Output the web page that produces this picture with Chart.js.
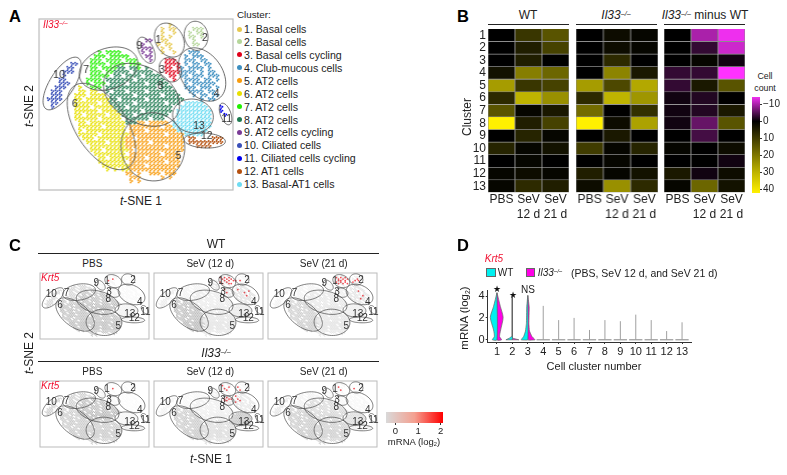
<!DOCTYPE html>
<html>
<head>
<meta charset="utf-8">
<script src="https://cdn.jsdelivr.net/npm/chart.js@4/dist/chart.umd.js"></script>
<style>
  html, body { margin: 0; padding: 0; background: #fff; }
  #page { position: relative; width: 787px; height: 475px; overflow: hidden; font-family: "Liberation Sans", Arial, sans-serif; color: #222; }
  canvas { position: absolute; }
  .txt { position: absolute; white-space: nowrap; line-height: 1; }
  .txt sup { font-size: 0.6em; vertical-align: baseline; position: relative; top: -0.45em; }
  .txt sub { font-size: 0.6em; vertical-align: baseline; position: relative; top: 0.25em; }
  .rule { position: absolute; background: #222; height: 1px; }
</style>
</head>
<body>
<div id="page"></div>
<script>
// Cluster names and colours for the t-SNE legend
const clusterNames = ['1. Basal cells', '2. Basal cells', '3. Basal cells cycling', '4. Club-mucous cells', '5. AT2 cells', '6. AT2 cells', '7. AT2 cells', '8. AT2 cells', '9. AT2 cells cycling', '10. Ciliated cells', '11. Ciliated cells cycling', '12. AT1 cells', '13. Basal-AT1 cells'];
const clusterColors = ['#e6c84e', '#b5d69a', '#e0001a', '#3c8ec0', '#f89c0e', '#e8e000', '#22f000', '#1d7a50', '#7a3a96', '#3a50b8', '#0000f0', '#b5500e', '#6fdcf2'];
const clusterCodes = '123456789abcd';

// Where the cells sit on a coarse grid (one char = one cell of the t-SNE map)
const tsneMask = [
  '.......... .......... .......... .......... .........',
  '.......... .......... .......... ...1...... .........',
  '.......... .......... .......... .1.11....2 22.......',
  '.......... .......... .......... .1..1...2. 22.......',
  '.......... .......... .......... .1.1....22 .2.......',
  '.......... .......... .......99. .11......2 .........',
  '.......... .......... ......9... 1.11.....2 2........',
  '.......... .......... ......999. .1.1...... .........',
  '.......... .....7.777 7.....9.9. .1..1...44 4........',
  '.......... ....777.77 777....99. .......4.4 44.......',
  '.......... ...777.777 7.777...9. ..333..444 .44......',
  '........aa ...7777.77 77.777.... ..3333.4.4 4.44.....',
  '.......aa. ...77.7777 88.887.8.. ..33.34.44 44.4.....',
  '......aaa. ...777.778 888.88888. ..33334444 .4.44....',
  '......a... ...77777.8 8.8888.888 8..33.44.4 44.444...',
  '.....aa... ..7777.888 8888.88888 88..3..444 4.44.4...',
  '.....aaa.. ..7.777.88 88.8888.88 888....4.4 44444....',
  '....aaa... 6..777.888 8888888888 .888...444 .444.4...',
  '...aaa.... 66.66..8.8 88.8888.88 88888...44 44.44....',
  '...aaa...6 66.6666.88 8888.88888 8.8888...4 .44.44...',
  '..aaaa...6 6.66666688 .888888.88 8888888... .4.44....',
  '...aa....6 66666.6688 8888.88888 88.888.ddd dd.......',
  '...a.....6 666.666668 88.8888888 8888..dddd ddd...b..',
  '.........6 66666.6666 888888.888 8888.ddddd dddd..b..',
  '.........6 6.66666.66 6888.88888 888..ddddd dddd...b.',
  '.........6 66666.6666 6.888888.8 88...ddddd dddd.....',
  '.......... 66.6666666 6688855.55 555.dddddd dddd.....',
  '.......... 666666.666 66.5555555 5.55dddddd dddd.....',
  '.......... 6.66666666 66.5555.55 55555ddddd ddd......',
  '.......... 66666.6666 6665555555 55.5555ddd dd.......',
  '.......... .666.66666 6655.55555 5555555.cc ....ccc..',
  '.......... ..66666.66 66555555.5 5555555.cc ccccccc..',
  '.......... ...6666666 6655555555 55.5555... cccc.....',
  '.......... ...666.666 6665.55555 5555555... .........',
  '.......... ....666666 66.5555555 5.5555.... .........',
  '.......... .....66.66 6665555.55 555555.... .........',
  '.......... .....66666 66.5555555 55.555.... .........',
  '.......... ......6666 6665555.55 555555.... .........',
  '.......... .......6.6 .665555555 55555..... .........',
  '.......... .......... ..55.5..55 5.555..... .........',
  '.......... .......... ...555.... .5.5...... .........',
  '.......... .......... ...5.5.... .......... .........'
];

// Map extent in grid units
const mapWidth = 49.4;
const mapHeight = 43.75;

// Cluster rings in map units: centre, semi axes, tilt in degrees
const ringX = [33.2, 40.0, 33.4, 41.5, 29.0, 15.9, 17.7, 26.1, 27.3, 5.9, 47.5, 42.2, 39.2];
const ringY = [5.4, 4.3, 13.0, 14.2, 32.7, 27.5, 12.7, 19.4, 8.0, 16.5, 24.3, 31.1, 24.8];
const ringA = [4.6, 3.75, 3.25, 7.5, 8.75, 12.5, 7.7, 10.4, 3.6, 7.7, 2.9, 5.25, 5.2];
const ringB = [3.5, 3.0, 2.65, 5.2, 8.1, 6.5, 5.2, 7.1, 1.85, 3.15, 1.35, 1.9, 4.3];
const ringTilt = [60, 80, 60, 55, 80, 57, -20, 30, 65, -58, 70, 3, 10];

// Cluster number labels in map units
const numberX = [30.4, 42.2, 31.3, 45.2, 35.5, 9.1, 12.0, 30.9, 25.5, 5.1, 47.8, 42.7, 40.7];
const numberY = [5.5, 4.8, 13.0, 19.2, 35.0, 21.7, 13.2, 17.2, 7.0, 14.4, 25.7, 30.0, 27.3];

// Panel B, cell counts per cluster (rows) and condition (columns)
const heatColumns = ['PBS', ['SeV', '12 d'], ['SeV', '21 d']];
const heatRows = ['1', '2', '3', '4', '5', '6', '7', '8', '9', '10', '11', '12', '13'];
const wtCounts = [[0, 9, 14], [0, 5, 11], [0, 5, 0], [3, 21, 17], [26, 9, 11], [7, 30, 24], [14, 1, 4], [40, 5, 11], [0, 6, 1], [6, 1, 3], [0, 1, 0], [1, 2, 1], [1, 7, 5]];
const koCounts = [[0, 2, 1], [0, 2, 1], [0, 7, 0], [0, 22, 4], [26, 12, 28], [7, 30, 25], [18, 0, 8], [40, 2, 27], [0, 4, 0], [10, 1, 6], [0, 1, 0], [5, 1, 3], [2, 24, 7]];
const diffCounts = [[0, -10, -14], [0, -3, -12], [0, 1, -1], [-3, -3, -15], [-3, 4, 14], [-1, -2, 0], [-1, -2, 4], [-1, -6, 14], [0, -4, 0], [1, 0, 2], [0, 0, -1], [4, -1, 2], [1, 17, 3]];
const countTicks = [-10, 0, 10, 20, 30, 40];

// Panel C, how dense the grey cells look per cluster in each small map
const greyLevels = [
  [0.1, 0.05, 0.1, 0.08, 0.7, 0.7, 0.5, 0.8, 0.1, 0.5, 0.05, 0.1, 0.15],
  [0.3, 0.1, 0.3, 0.4, 0.3, 0.75, 0.15, 0.25, 0.3, 0.25, 0.05, 0.1, 0.25],
  [0.3, 0.2, 0.2, 0.35, 0.3, 0.55, 0.15, 0.3, 0.1, 0.15, 0.05, 0.1, 0.2],
  [0.05, 0.05, 0.1, 0.05, 0.6, 0.6, 0.6, 0.85, 0.1, 0.6, 0.05, 0.2, 0.1],
  [0.2, 0.1, 0.3, 0.3, 0.4, 0.6, 0.1, 0.2, 0.15, 0.15, 0.05, 0.1, 0.7],
  [0.1, 0.05, 0.1, 0.1, 0.55, 0.6, 0.15, 0.5, 0.1, 0.3, 0.05, 0.15, 0.4]
];
// Krt5 positive cells in each small map
const redCells = [
  [[31, 5], [33, 4]],
  [[30, 3], [31, 4], [32, 3], [33, 4], [34, 3], [35, 4], [36, 5], [30, 6], [31, 7], [33, 6], [34, 7], [35, 7], [32, 5], [34, 5], [32, 11], [33, 13], [38, 11], [41, 13], [43, 12], [42, 15], [37, 5], [39, 5]],
  [[31, 3], [32, 4], [33, 3], [34, 4], [35, 3], [36, 4], [31, 6], [32, 7], [33, 6], [34, 7], [35, 6], [36, 7], [33, 5], [35, 5], [32, 5], [38.5, 6], [39.5, 5], [40.5, 4], [41, 5], [41, 12], [43, 15], [42, 17]],
  [[33, 5]],
  [[31, 3], [32, 5], [33, 6], [34, 4], [32, 12], [33, 11], [33, 13], [34, 12], [35, 12], [32, 13], [37, 10], [38, 12], [37, 14], [39, 13], [38, 4], [39, 6]],
  [[32, 4], [33, 6], [39, 5]]
];
const mapTitles = ['PBS', 'SeV (12 d)', 'SeV (21 d)'];
const mrnaTicks = [0, 1, 2];

// Panel D, violin half widths (x units) at the listed mRNA levels
const violin1Levels = [4.3, 3.05, 2.05, 0.9, 0.3, 0];
const violin1Wt = [0, 0.22, 0.43, 0.22, 0.17, 0.3];
const violin1Ko = [0, 0.22, 0.4, 0.24, 0.17, 0.3];
const violin2Levels = [3.9, 0.35, 0.15, 0];
const violin2Wt = [0, 0.01, 0.2, 0.42];
const violin2Ko = [0, 0, 0.02, 0.42];
const violin3Levels = [4.05, 3, 1.5, 0.8, 0.3, 0];
const violin3Wt = [0, 0.07, 0.09, 0.15, 0.27, 0.43];
const violin3Ko = [0, 0.09, 0.07, 0.11, 0.27, 0.47];
const stemClusters = [4, 5, 6, 7, 8, 9, 10, 11, 12, 13];
const stemHeights = [3.1, 1.8, 2.0, 0.9, 1.8, 1.7, 2.3, 1.8, 0.8, 1.6];
const violinTicksX = [1, 2, 3, 4, 5, 6, 7, 8, 9, 10, 11, 12, 13];
const violinTicksY = [0, 2, 4];

const fontName = '"Liberation Sans", Arial, sans-serif';
const page = document.getElementById('page');
const IL33 = '<i>Il33</i><sup><i>–/–</i></sup>';

function addText(html, x, y, size, extra) {
  const el = document.createElement('div');
  el.className = 'txt';
  el.innerHTML = html;
  el.style.left = x + 'px';
  el.style.top = y + 'px';
  el.style.fontSize = size + 'px';
  const rotate = extra && extra.rotate ? ' rotate(-90deg)' : '';
  const shift = extra && extra.left ? 'translate(0,-50%)' : 'translate(-50%,-50%)';
  el.style.transform = shift + rotate;
  if (extra && extra.color) el.style.color = extra.color;
  if (extra && extra.bold) el.style.fontWeight = 'bold';
  page.appendChild(el);
  return el;
}

function addRule(x1, x2, y) {
  const el = document.createElement('div');
  el.className = 'rule';
  el.style.left = x1 + 'px';
  el.style.width = (x2 - x1) + 'px';
  el.style.top = y + 'px';
  page.appendChild(el);
}

function addCanvas(x, y, w, h) {
  const c = document.createElement('canvas');
  c.width = w;
  c.height = h;
  c.style.left = x + 'px';
  c.style.top = y + 'px';
  c.style.width = w + 'px';
  c.style.height = h + 'px';
  page.appendChild(c);
  return c;
}

// scales reserve room for half a tick label at their ends, which shrinks the plot
function fixScale(s, size) {
  if (s.isHorizontal()) s.height = size; else s.width = size;
  s.paddingTop = 0;
  s.paddingBottom = 0;
  s.paddingLeft = 0;
  s.paddingRight = 0;
}

// black at 0, yellow for positive counts, magenta for negative ones
function heatColor(v) {
  if (v >= 0) {
    const t = Math.min(v / 40, 1);
    return 'rgb(' + Math.round(255 * t) + ',' + Math.round(240 * t) + ',0)';
  }
  const t = Math.min(-v / 15, 1);
  return 'rgb(' + Math.round(255 * t) + ',' + Math.round(50 * t) + ',' + Math.round(255 * t) + ')';
}

// Rings, numbers and frame of a t-SNE map, all through the chart scales
const mapOverlay = {
  id: 'mapOverlay',
  afterDatasetsDraw(chart, args, opts) {
    const c = chart.ctx;
    const sx = chart.scales.x;
    const sy = chart.scales.y;
    const area = chart.chartArea;
    c.save();
    c.strokeStyle = '#bbbbbb';
    c.lineWidth = opts.frame;
    c.strokeRect(area.left, area.top, area.right - area.left, area.bottom - area.top);
    c.strokeStyle = '#484848';
    c.lineWidth = opts.ring;
    ringX.forEach((cx, i) => {
      const tilt = ringTilt[i] * Math.PI / 180;
      c.beginPath();
      for (let k = 0; k <= 60; k++) {
        const t = k / 60 * Math.PI * 2;
        const dx = ringA[i] * Math.cos(t);
        const dy = ringB[i] * Math.sin(t);
        const px = sx.getPixelForValue(cx + dx * Math.cos(tilt) - dy * Math.sin(tilt));
        const py = sy.getPixelForValue(ringY[i] + dx * Math.sin(tilt) + dy * Math.cos(tilt));
        if (k === 0) c.moveTo(px, py); else c.lineTo(px, py);
      }
      c.stroke();
    });
    c.fillStyle = '#333333';
    c.font = opts.fontSize + 'px ' + fontName;
    c.textAlign = 'center';
    c.textBaseline = 'middle';
    numberX.forEach((nx, i) => {
      c.fillText(String(i + 1), sx.getPixelForValue(nx), sy.getPixelForValue(numberY[i]));
    });
    c.restore();
  }
};

// spots: where inside a mask cell the dots go, so the big map gets a finer grain
function maskPoints(code, spots) {
  const pts = [];
  tsneMask.forEach((row, r) => {
    row.replace(/ /g, '').split('').forEach((ch, col) => {
      if (ch === code) spots.forEach((s) => pts.push({ x: col + s[0], y: r + s[1] }));
    });
  });
  return pts;
}

function drawMap(x, y, w, h, datasets, overlay) {
  new Chart(addCanvas(x - 2, y - 2, w + 4, h + 4), {
    type: 'scatter',
    data: { datasets: datasets },
    plugins: [mapOverlay],
    options: {
      responsive: false,
      animation: false,
      layout: { padding: 2 },
      plugins: { legend: { display: false }, tooltip: { enabled: false }, mapOverlay: overlay },
      scales: {
        x: { display: false, min: 0, max: mapWidth },
        y: { display: false, min: 0, max: mapHeight, reverse: true }
      }
    }
  });
}

// ---------- Panel A ----------
drawMap(37.3, 17.3, 197.7, 175, clusterColors.map((color, i) => ({
  data: maskPoints(clusterCodes[i], [[0.2, 0.2], [0.7, 0.45], [0.35, 0.8]]),
  backgroundColor: color,
  borderWidth: 0,
  pointRadius: 0.95
})), { frame: 1.2, ring: 0.8, fontSize: 10.5 });

addText('A', 15, 16, 16.5, { bold: true, color: '#000' });
addText(IL33, 43, 25, 10, { left: true, color: '#f01030' });
addText('<i>t</i>-SNE 2', 29, 106, 12, { rotate: true });
addText('<i>t</i>-SNE 1', 141, 201, 12);

addText('Cluster:', 237, 15, 9.8, { left: true });
clusterNames.forEach((name, i) => {
  const rowY = 29 + i * 12.93;
  addText(name, 244, rowY, 10.6, { left: true });
  const dot = document.createElement('div');
  dot.style.cssText = 'position:absolute;width:5px;height:5px;border-radius:50%;background:' + clusterColors[i] + ';left:237.3px;top:' + (rowY - 2.5) + 'px';
  page.appendChild(dot);
});

// ---------- Panel B ----------
function drawHeat(x, counts, withRows) {
  const plotW = 81.5;
  const left = withRows ? 24 : 0;
  const datasets = heatRows.map((row, i) => ({
    label: row,
    data: counts[i].map(() => 1),
    backgroundColor: counts[i].map(heatColor),
    borderColor: '#8c8c8c',
    borderWidth: 0.8,
    barPercentage: 1,
    categoryPercentage: 1
  }));
  new Chart(addCanvas(x - left, 28, plotW + left + 1, 196), {
    type: 'bar',
    data: { labels: heatColumns, datasets: datasets },
    options: {
      responsive: false,
      animation: false,
      layout: { padding: { top: 1, right: 1, left: 0, bottom: 0 } },
      plugins: { legend: { display: false }, tooltip: { enabled: false } },
      scales: {
        x: {
          stacked: true,
          grid: { display: false, drawTicks: false, tickLength: 0 },
          border: { display: false },
          ticks: { autoSkip: false, maxRotation: 0, minRotation: 0, padding: 0, color: '#222', font: { size: 12, family: fontName, lineHeight: 1.25 } },
          afterFit(s) { fixScale(s, 31.5); }
        },
        y: {
          display: withRows,
          stacked: true,
          reverse: true,
          min: 0,
          max: 13,
          grid: { display: false, drawTicks: false },
          border: { display: false },
          afterBuildTicks(s) { s.ticks = heatRows.map((r, i) => ({ value: i + 0.5 })); },
          ticks: {
            autoSkip: false,
            padding: 2,
            color: '#222',
            font: { size: 12, family: fontName },
            callback: (v) => heatRows[Math.round(v - 0.5)]
          },
          afterFit(s) { fixScale(s, left); }
        }
      }
    }
  });
}
drawHeat(487.7, wtCounts, true);
drawHeat(576, koCounts, false);
drawHeat(663.7, diffCounts, false);

addText('B', 463, 16, 16.5, { bold: true, color: '#000' });
addText('WT', 528, 15, 12);
addText(IL33, 616, 15, 12);
addText(IL33 + ' minus WT', 705, 15, 12);
addRule(488, 569, 23.5);
addRule(576, 656.5, 23.5);
addRule(664, 745, 23.5);
addText('Cluster', 467, 117, 12, { rotate: true });
addText('Cell', 765, 76, 8.8);
addText('count', 765, 87.7, 8.8);

// colour bar for the cell counts
new Chart(addCanvas(752, 95.5, 34, 98), {
  type: 'bar',
  data: {
    labels: ['count'],
    datasets: [{
      data: [[-14.2, 42]],
      barPercentage: 1,
      categoryPercentage: 1,
      backgroundColor(ctx) {
        const area = ctx.chart.chartArea;
        if (!area) return '#000';
        const g = ctx.chart.ctx.createLinearGradient(0, area.top, 0, area.bottom);
        const total = 42 + 14.2;
        [-14.2, -7, 0, 10, 20, 30, 42].forEach((v) => g.addColorStop((v + 14.2) / total, heatColor(v)));
        return g;
      }
    }]
  },
  options: {
    responsive: false,
    animation: false,
    layout: { padding: { top: 1, bottom: 1 } },
    plugins: { legend: { display: false }, tooltip: { enabled: false } },
    scales: {
      x: { display: false },
      y: {
        position: 'right',
        reverse: true,
        min: -14.2,
        max: 42,
        border: { display: false },
        grid: { drawOnChartArea: false, tickLength: 2, color: '#333' },
        afterBuildTicks(s) { s.ticks = countTicks.map((v) => ({ value: v })); },
        ticks: {
          autoSkip: false,
          padding: 1,
          color: '#222',
          font: { size: 10, family: fontName },
          callback: (v) => (v < 0 ? '−' + (-v) : String(v))
        },
        afterFit(s) { fixScale(s, 26); }
      }
    }
  }
});

// ---------- Panel C ----------
const mapLefts = [38.3, 152.3, 265.7];
const mapTops = [271, 379];
mapTops.forEach((top, row) => {
  mapLefts.forEach((left, col) => {
    const panel = row * 3 + col;
    const sets = clusterColors.map((color, i) => ({
      data: maskPoints(clusterCodes[i], [[0.25, 0.3], [0.75, 0.8]]),
      backgroundColor: 'rgba(100,100,100,' + (greyLevels[panel][i] * 0.55) + ')',
      borderWidth: 0,
      pointRadius: 0.65
    }));
    sets.push({
      data: redCells[panel].map((p) => ({ x: p[0], y: p[1] })),
      backgroundColor: 'rgba(240,20,30,0.75)',
      borderWidth: 0,
      pointRadius: 0.9
    });
    drawMap(left, top, 113, 70.3, sets, { frame: 1, ring: 0.7, fontSize: 10 });
    addText(mapTitles[col], left + (col === 0 ? 54 : 58), top - 7.5, 10);
  });
  addText('<i>Krt5</i>', 41, top + 7, 10, { left: true, color: '#f01030' });
});
addText('C', 15, 245, 16.5, { bold: true, color: '#000' });
addText('WT', 216, 244, 12);
addRule(38, 379, 252.5);
addText(IL33, 216, 353, 12);
addRule(38, 379, 361);
addText('<i>t</i>-SNE 2', 29, 353, 12, { rotate: true });
addText('<i>t</i>-SNE 1', 211, 459, 12);

// colour bar for mRNA
new Chart(addCanvas(385, 411, 59, 26), {
  type: 'bar',
  data: {
    labels: ['mRNA'],
    datasets: [{
      data: [[-0.42, 2.1]],
      barPercentage: 1,
      categoryPercentage: 1,
      backgroundColor(ctx) {
        const area = ctx.chart.chartArea;
        if (!area) return '#ddd';
        const g = ctx.chart.ctx.createLinearGradient(area.left, 0, area.right, 0);
        g.addColorStop(0, '#d9d9d9');
        g.addColorStop(0.5, '#f4a090');
        g.addColorStop(1, '#ff0000');
        return g;
      }
    }]
  },
  options: {
    indexAxis: 'y',
    responsive: false,
    animation: false,
    layout: { padding: { left: 1, right: 1, top: 1 } },
    plugins: { legend: { display: false }, tooltip: { enabled: false } },
    scales: {
      y: { display: false },
      x: {
        min: -0.42,
        max: 2.1,
        border: { display: false },
        grid: { drawOnChartArea: false, tickLength: 2, color: '#333' },
        afterBuildTicks(s) { s.ticks = mrnaTicks.map((v) => ({ value: v })); },
        ticks: { padding: 1, color: '#222', font: { size: 9.5, family: fontName } },
        afterFit(s) { fixScale(s, 14); }
      }
    }
  }
});
addText('mRNA (log<sub>2</sub>)', 414, 442, 9.5);

// ---------- Panel D ----------
function violinHalf(center, levels, widths, side, color, bend) {
  const pts = [{ x: center, y: levels[0] }];
  levels.forEach((lv, i) => pts.push({ x: center + side * widths[i], y: lv }));
  pts.push({ x: center, y: levels[levels.length - 1] });
  pts.push({ x: center, y: levels[0] });
  return { data: pts, showLine: true, fill: 'shape', backgroundColor: color, borderColor: '#666', borderWidth: 0.7, pointRadius: 0, tension: bend };
}
function plainLine(pts, color, width) {
  return { data: pts, showLine: true, fill: false, borderColor: color, borderWidth: width, pointRadius: 0 };
}

const violinSets = [
  violinHalf(1, violin1Levels, violin1Wt, -1, '#00f0f0', 0.25),
  violinHalf(1, violin1Levels, violin1Ko, 1, '#ff00e6', 0.25),
  violinHalf(2, violin2Levels, violin2Wt, -1, '#00f0f0', 0),
  violinHalf(2, violin2Levels, violin2Ko, 1, '#ff00e6', 0),
  violinHalf(3, violin3Levels, violin3Wt, -1, '#00f0f0', 0.1),
  violinHalf(3, violin3Levels, violin3Ko, 1, '#ff00e6', 0.1)
];
stemClusters.forEach((c, i) => {
  violinSets.push(plainLine([{ x: c, y: 0 }, { x: c, y: stemHeights[i] }], '#a0a0a0', 1));
  violinSets.push(plainLine([{ x: c - 0.43, y: 0 }, { x: c + 0.43, y: 0 }], '#666', 0.8));
});

new Chart(addCanvas(465, 285, 230, 74), {
  type: 'scatter',
  data: { datasets: violinSets },
  options: {
    responsive: false,
    animation: false,
    layout: { padding: { top: 5, right: 4 } },
    plugins: { legend: { display: false }, tooltip: { enabled: false } },
    scales: {
      x: {
        min: 0.4,
        max: 13.58,
        grid: { drawOnChartArea: false, tickLength: 2, color: '#333' },
        border: { color: '#333', width: 1 },
        afterBuildTicks(s) { s.ticks = violinTicksX.map((v) => ({ value: v })); },
        ticks: { autoSkip: false, maxRotation: 0, padding: 1, color: '#222', font: { size: 11, family: fontName } },
        afterFit(s) { fixScale(s, 17); }
      },
      y: {
        min: -0.2,
        max: 4.55,
        grid: { drawOnChartArea: false, tickLength: 2, color: '#333' },
        border: { color: '#333', width: 1 },
        afterBuildTicks(s) { s.ticks = violinTicksY.map((v) => ({ value: v })); },
        ticks: { padding: 1, color: '#222', font: { size: 11, family: fontName } },
        afterFit(s) { fixScale(s, 22.7); }
      }
    }
  }
});

addText('D', 463, 245, 16.5, { bold: true, color: '#000' });
addText('<i>Krt5</i>', 494, 259, 10, { color: '#f01030' });
[[486, '#00f0f0'], [525.5, '#ff00e6']].forEach((box) => {
  const el = document.createElement('div');
  el.style.cssText = 'position:absolute;box-sizing:border-box;width:9.5px;height:9.5px;border:1px solid #666;background:' + box[1] + ';left:' + box[0] + 'px;top:267.7px';
  page.appendChild(el);
});
addText('WT', 497.7, 272.5, 10, { left: true });
addText(IL33, 537.7, 272.5, 10, { left: true });
addText('(PBS, SeV 12 d, and SeV 21 d)', 571, 272.5, 10.5, { left: true });
addText('★', 497, 289, 9, { color: '#111' });
addText('★', 513.3, 295, 9, { color: '#111' });
addText('NS', 528, 290, 10);
addText('mRNA (log<sub>2</sub>)', 465, 318, 11.5, { rotate: true });
addText('Cell cluster number', 594, 366, 11);
</script>
</body>
</html>
